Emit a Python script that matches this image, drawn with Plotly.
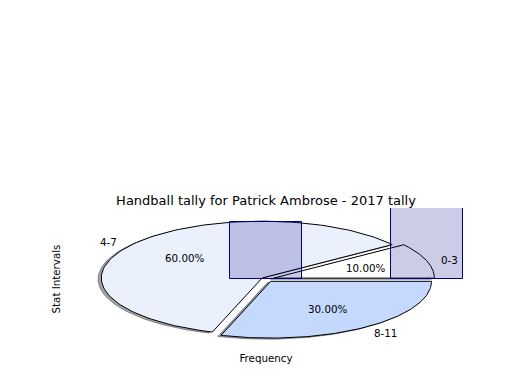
import numpy as np
import plotly.graph_objects as go

# ---- data ----
labels = ['0-3', '4-7', '8-11']
freq = [1, 6, 3]
explode = [0.05, 0.03, 0.05]
wedge_colors = ['#FFFFFF', '#EAF1FD', '#C5D8FD']
bar_x = [0, 1, 2]
title = 'Handball tally for Patrick Ambrose - 2017 tally'
xlabel = 'Frequency'
ylabel = 'Stat Intervals'

FONT = 'DejaVu Sans'
TXT = 10.3

def hex_rgb(h):
    h = h.lstrip('#')
    return [int(h[i:i + 2], 16) for i in (0, 2, 4)]

total = float(sum(freq))
fracs = [f / total for f in freq]

fig = go.Figure()

# geometry of wedges computed from the values
geo = []
start = 0.0
for i, fr in enumerate(fracs):
    t1, t2 = start * 360.0, (start + fr) * 360.0
    mid = np.deg2rad((t1 + t2) / 2)
    cx, cy = explode[i] * np.cos(mid), explode[i] * np.sin(mid)
    th = np.deg2rad(np.linspace(t1, t2, 120))
    xs = np.concatenate([[cx], cx + np.cos(th), [cx]])
    ys = np.concatenate([[cy], cy + np.sin(th), [cy]])
    geo.append((xs, ys, cx, cy, mid))
    start += fr

# shadows first (below the wedges)
for i, (xs, ys, cx, cy, mid) in enumerate(geo):
    r, g, b = [0.3 * c for c in hex_rgb(wedge_colors[i])]
    fig.add_trace(go.Scatter(x=xs - 0.02, y=ys - 0.02, mode='lines', fill='toself',
                             fillcolor=f'rgba({r:.0f},{g:.0f},{b:.0f},0.5)',
                             line=dict(color=f'rgba({r:.0f},{g:.0f},{b:.0f},0.5)', width=1),
                             hoverinfo='skip', showlegend=False, xaxis='x', yaxis='y'))
# wedges
for i, (xs, ys, cx, cy, mid) in enumerate(geo):
    fig.add_trace(go.Scatter(x=xs, y=ys, mode='lines', fill='toself',
                             fillcolor=wedge_colors[i], line=dict(color='black', width=1),
                             name=labels[i], showlegend=False, xaxis='x', yaxis='y'))

# bars on an overlaying axis pair so they sit above the pie
fig.add_trace(go.Bar(x=bar_x, y=freq, width=0.45,
                     marker=dict(color='rgba(0,0,128,0.2)', line=dict(color='navy', width=1)),
                     showlegend=False, xaxis='x2', yaxis='y2'))

annotations = []
for i, (xs, ys, cx, cy, mid) in enumerate(geo):
    lx, ly = cx + 1.1 * np.cos(mid), cy + 1.1 * np.sin(mid)
    left = lx > 0
    annotations.append(dict(x=lx, y=ly, xref='x', yref='y', text=labels[i], showarrow=False,
                            xanchor='left' if left else 'right', yanchor='middle',
                            xshift=-3 if left else 0, yshift=-1,
                            font=dict(family=FONT, size=TXT, color='black')))
    px, py = cx + 0.6 * np.cos(mid), cy + 0.6 * np.sin(mid)
    annotations.append(dict(x=px, y=py, xref='x', yref='y', text=f'{fracs[i] * 100:.2f}%',
                            showarrow=False, xanchor='center', yanchor='middle',
                            font=dict(family=FONT, size=TXT, color='black')))

ax = dict(range=[-1.25, 1.25], showgrid=False, zeroline=False, showticklabels=False,
          ticks='', showline=False, fixedrange=True, automargin=False)

fig.update_layout(
    width=520, height=390,
    margin=dict(l=65, r=53, t=208, b=40),
    paper_bgcolor='white', plot_bgcolor='white',
    font=dict(family=FONT, size=TXT, color='black'),
    title=dict(text=title, x=0.5, xref='paper', xanchor='center',
               y=1 - 200 / 390, yref='container', yanchor='middle',
               font=dict(family=FONT, size=13, color='black')),
    xaxis=dict(**ax, title=dict(text=xlabel, standoff=4, font=dict(family=FONT, size=TXT))),
    yaxis=dict(**ax, title=dict(text=ylabel, standoff=1, font=dict(family=FONT, size=TXT))),
    xaxis2=dict(**ax, overlaying='x', visible=False),
    yaxis2=dict(**ax, overlaying='y', visible=False),
    annotations=annotations,
    bargap=0,
)

fig.write_html('out.html', config={'displayModeBar': False},
               post_script="document.body.style.margin='0';")
